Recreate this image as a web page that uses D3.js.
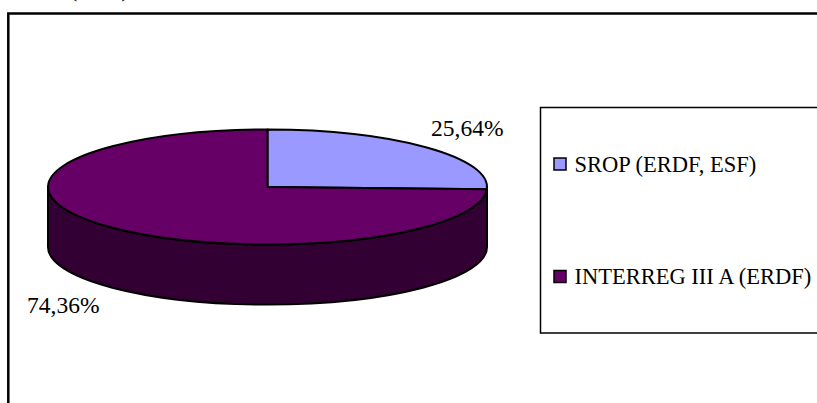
<!DOCTYPE html>
<html><head><meta charset="utf-8">
<script src="https://cdn.jsdelivr.net/npm/d3@7"></script>
<style>html,body{margin:0;padding:0;background:#fff}svg{display:block}text{font-family:"Liberation Serif","Times New Roman",serif;fill:#000}</style>
</head><body><script>
const categories=["SROP (ERDF, ESF)","INTERREG III A (ERDF)"];
const values=[25.64,74.36];
const valueLabels=["25,64%","74,36%"];
const topColors=["#9999ff","#660066"];
const sideColors=["#4c4c80","#330033"];
const W=817,H=403,cx=267.5,cy=187,rx=219.5,ry=57.5,depth=60;
const svg=d3.select("body").append("svg").attr("width",W).attr("height",H);
svg.append("path").attr("d",`M8.3,${H}V13.5H${W}`).attr("fill","none").attr("stroke","#000").attr("stroke-width",2.5);
svg.append("text").attr("x",70).attr("y",-3).attr("font-size",22).text("(EUR)");
const arcs=d3.pie().sort(null).value(d=>d)(values);
const px=a=>cx+rx*Math.sin(a),py=(a,dy=0)=>cy-ry*Math.cos(a)+dy;
const topPath=a=>{const s=a.startAngle,e=a.endAngle,large=e-s>Math.PI?1:0;
  return `M${cx},${cy}L${px(s)},${py(s)}A${rx},${ry} 0 ${large} 1 ${px(e)},${py(e)}Z`;};
const g=svg.append("g").attr("stroke","#000").attr("stroke-width",2).attr("stroke-linejoin","round");
g.append("path").attr("fill",sideColors[1])
 .attr("d",`M${cx+rx},${cy}V${cy+depth}A${rx},${ry} 0 0 1 ${cx-rx},${cy+depth}V${cy}A${rx},${ry} 0 0 0 ${cx+rx},${cy}Z`);
g.selectAll("path.top").data(arcs).join("path").attr("class","top")
 .attr("fill",(d,i)=>topColors[i]).attr("d",topPath);
svg.selectAll("text.val").data(valueLabels).join("text").attr("class","val")
 .attr("x",(d,i)=>[431,27][i]).attr("y",(d,i)=>[136,313][i]).attr("font-size",23.5).text(d=>d);
svg.append("rect").attr("x",540.5).attr("y",107.5).attr("width",W-540.5+5).attr("height",225.5)
 .attr("fill","#fff").attr("stroke","#000").attr("stroke-width",1.5);
const rowY=[164,276.5];
const leg=svg.selectAll("g.leg").data(categories).join("g").attr("class","leg")
 .attr("transform",(d,i)=>`translate(0,${rowY[i]})`);
leg.append("rect").attr("x",554).attr("y",-6).attr("width",12).attr("height",12)
 .attr("fill",(d,i)=>topColors[i]).attr("stroke","#000").attr("stroke-width",1.5);
leg.append("text").attr("x",574.5).attr("y",7.5).attr("font-size",22.5).text(d=>d);
</script></body></html>
